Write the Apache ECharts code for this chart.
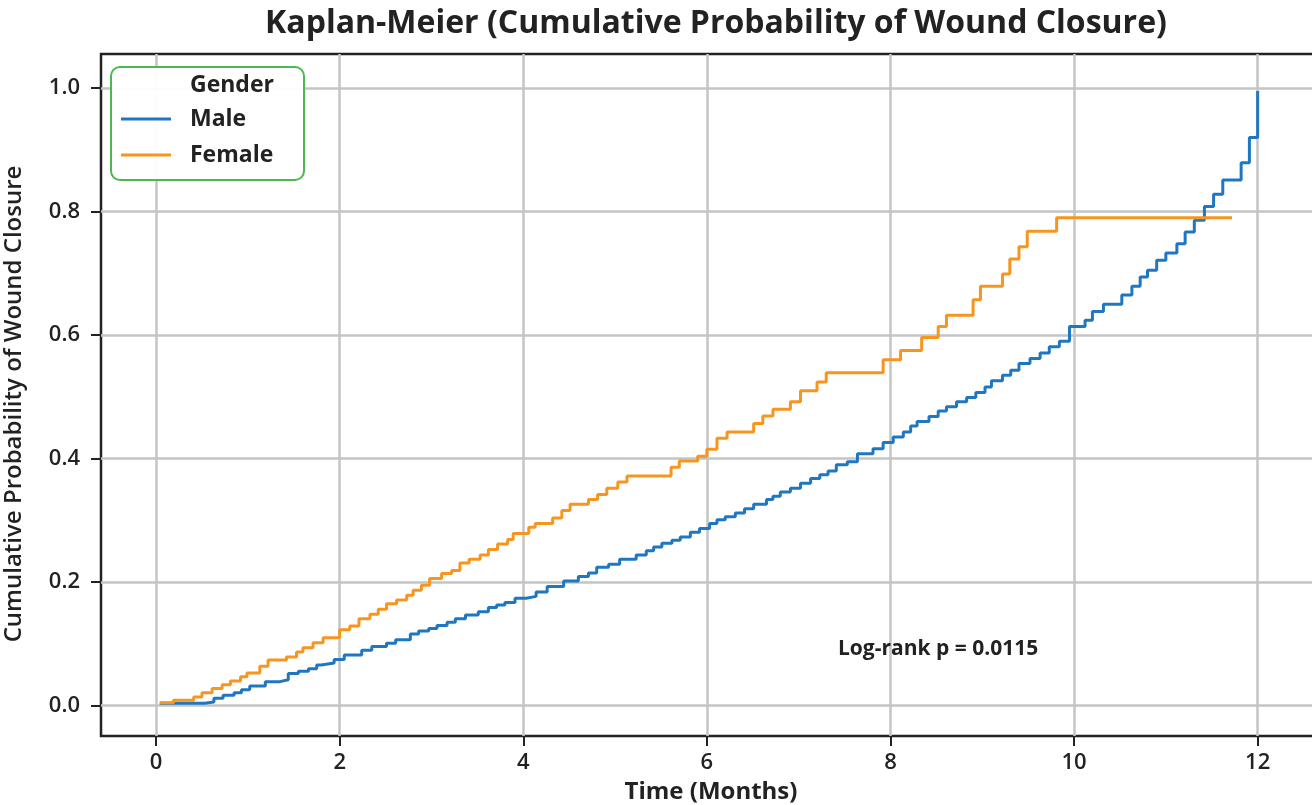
<!DOCTYPE html>
<html>
<head>
<meta charset="utf-8">
<script src="https://cdn.jsdelivr.net/npm/echarts@6/dist/echarts.min.js"></script>
<style>
  html, body { margin: 0; padding: 0; background: #fff; }
  #chart { width: 1312px; height: 805px; }
</style>
</head>
<body>
<div id="chart"></div>
<script>
// step times (months) and cumulative probability of closure
const maleTime = [0.04, 0.53, 0.63, 0.73, 0.85, 0.93, 1.02, 1.19, 1.35, 1.44, 1.55, 1.66, 1.75, 1.80, 1.94,
  2.05, 2.24, 2.35, 2.51, 2.61, 2.77, 2.86, 2.97, 3.06, 3.17, 3.26, 3.37, 3.51, 3.62, 3.71, 3.80, 3.91,
  4.03, 4.14, 4.26, 4.44, 4.60, 4.71, 4.80, 4.93, 5.05, 5.23, 5.34, 5.42, 5.51, 5.62, 5.71, 5.82, 5.92,
  6.03, 6.11, 6.20, 6.31, 6.41, 6.51, 6.65, 6.72, 6.80, 6.91, 7.02, 7.13, 7.23, 7.32, 7.41, 7.53, 7.64,
  7.81, 7.92, 8.03, 8.14, 8.22, 8.29, 8.42, 8.52, 8.61, 8.72, 8.83, 8.93, 9.03, 9.10, 9.22, 9.31, 9.40,
  9.52, 9.63, 9.73, 9.84, 9.95, 10.12, 10.20, 10.32, 10.52, 10.63, 10.72, 10.80, 10.90, 11.00, 11.12,
  11.21, 11.31, 11.42, 11.52, 11.62, 11.82, 11.91, 12.00]
const maleProb = [0.004, 0.006, 0.012, 0.017, 0.021, 0.026, 0.032, 0.039, 0.042, 0.052, 0.056, 0.060, 0.066, 0.069, 0.075,
  0.082, 0.090, 0.096, 0.101, 0.107, 0.116, 0.121, 0.125, 0.130, 0.135, 0.141, 0.147, 0.152, 0.159, 0.163, 0.167, 0.174,
  0.177, 0.184, 0.193, 0.202, 0.209, 0.215, 0.224, 0.229, 0.237, 0.244, 0.251, 0.257, 0.263, 0.268, 0.273, 0.281, 0.287,
  0.295, 0.301, 0.306, 0.312, 0.319, 0.326, 0.334, 0.339, 0.346, 0.352, 0.360, 0.368, 0.374, 0.380, 0.390, 0.395, 0.408,
  0.416, 0.426, 0.435, 0.443, 0.453, 0.460, 0.468, 0.477, 0.484, 0.492, 0.499, 0.507, 0.516, 0.526, 0.535, 0.543, 0.554,
  0.562, 0.571, 0.581, 0.590, 0.614, 0.624, 0.638, 0.650, 0.665, 0.679, 0.694, 0.705, 0.721, 0.733, 0.748,
  0.767, 0.786, 0.808, 0.828, 0.851, 0.879, 0.920, 0.995]

const femaleTime = [0.04, 0.19, 0.41, 0.50, 0.61, 0.72, 0.81, 0.92, 0.99, 1.13, 1.22, 1.42, 1.53, 1.60, 1.71, 1.82,
  2.00, 2.11, 2.21, 2.33, 2.42, 2.51, 2.62, 2.73, 2.80, 2.89, 2.98, 3.11, 3.22, 3.31, 3.41, 3.53, 3.62, 3.72,
  3.83, 3.89, 4.06, 4.13, 4.32, 4.42, 4.51, 4.71, 4.81, 4.91, 5.03, 5.13, 5.61, 5.70, 5.90, 6.00, 6.11, 6.22,
  6.51, 6.61, 6.72, 6.91, 7.02, 7.20, 7.30, 7.92, 8.11, 8.34, 8.52, 8.61, 8.90, 8.98, 9.22, 9.30, 9.40, 9.49,
  9.81, 11.72]
const femaleProb = [0.005, 0.009, 0.014, 0.021, 0.028, 0.034, 0.040, 0.047, 0.053, 0.064, 0.074, 0.079, 0.087, 0.094, 0.102, 0.110,
  0.123, 0.129, 0.141, 0.148, 0.156, 0.165, 0.171, 0.179, 0.187, 0.195, 0.206, 0.214, 0.219, 0.231, 0.237, 0.244, 0.253, 0.262,
  0.269, 0.279, 0.289, 0.295, 0.304, 0.316, 0.326, 0.334, 0.342, 0.352, 0.362, 0.372, 0.386, 0.396, 0.404, 0.415, 0.433, 0.443,
  0.457, 0.469, 0.480, 0.492, 0.510, 0.524, 0.539, 0.560, 0.575, 0.596, 0.614, 0.632, 0.657, 0.679, 0.699, 0.723, 0.743, 0.768,
  0.790, 0.790]

const xTicks = [0, 2, 4, 6, 8, 10, 12]
const yTicks = [0, 0.2, 0.4, 0.6, 0.8, 1.0]

const FONT = '"Open Sans", Lato, sans-serif'
const INK = '#222222'

const chart = echarts.init(document.getElementById('chart'), null, { renderer: 'canvas' })

const pairs = (xs, ys) => xs.map((x, i) => [x, ys[i]])

const option = {
  backgroundColor: '#ffffff',
  animation: false,
  title: {
    text: 'Kaplan-Meier (Cumulative Probability of Wound Closure)',
    left: 711,
    top: 3,
    textAlign: 'center',
    textStyle: { fontFamily: FONT, fontSize: 32, fontWeight: 'bold', color: INK },
  },
  grid: {
    left: 101,
    top: 54,
    width: 1220,
    height: 682,
    outerBoundsMode: 'none',
    show: true,
    borderColor: INK,
    borderWidth: 2.5,
    backgroundColor: 'transparent',
  },
  xAxis: {
    type: 'value',
    min: -0.6,
    max: 12.69,
    name: 'Time (Months)',
    nameLocation: 'middle',
    nameGap: 44,
    nameTextStyle: { fontFamily: FONT, fontSize: 24, fontWeight: 'bold', color: INK },
    axisLine: { show: false, onZero: false },
    axisTick: { show: true, length: 10, customValues: xTicks, lineStyle: { color: INK, width: 2 } },
    axisLabel: { customValues: xTicks, margin: 16, fontFamily: FONT, fontSize: 22, fontWeight: 600, color: INK },
    splitLine: { show: true, lineStyle: { color: '#c4c4c4', width: 2.5 } },
  },
  yAxis: {
    type: 'value',
    min: -0.049,
    max: 1.055,
    name: 'Cumulative Probability of Wound Closure',
    nameLocation: 'middle',
    nameGap: 75,
    nameTextStyle: {
      fontFamily: FONT, fontSize: 24, fontWeight: 600, color: INK,
      padding: [0, 18, 0, 0],
    },
    axisLine: { show: false, onZero: false },
    axisTick: { show: true, length: 10, customValues: yTicks, lineStyle: { color: INK, width: 2 } },
    axisLabel: {
      customValues: yTicks, margin: 21, fontFamily: FONT, fontSize: 22, fontWeight: 600, color: INK,
      formatter: (v) => v.toFixed(1),
    },
    splitLine: { show: true, lineStyle: { color: '#c4c4c4', width: 2.5 } },
  },
  legend: {
    data: ['Male', 'Female'],
    orient: 'vertical',
    left: 110,
    top: 66,
    padding: [39, 10, 10, 11],
    itemGap: 8,
    itemWidth: 50,
    itemHeight: 3,
    icon: 'rect',
    z: 20,
    textStyle: {
      fontFamily: FONT, fontSize: 23, fontWeight: 'bold', color: INK,
      lineHeight: 28, padding: [0, 0, 0, 14],
    },
  },
  graphic: [
    {
      type: 'rect',
      left: 110,
      top: 66,
      z: 15,
      shape: { width: 193, height: 113, r: 9 },
      style: { fill: 'rgba(255,255,255,0.95)', stroke: '#4cb84f', lineWidth: 2 },
    },
    {
      type: 'text',
      left: 190,
      top: 74,
      z: 21,
      style: { text: 'Gender', fontFamily: FONT, fontSize: 23, fontWeight: 'bold', fill: INK },
    },
    {
      type: 'text',
      left: 838,
      top: 639,
      z: 21,
      style: { text: 'Log-rank p = 0.0115', fontFamily: FONT, fontSize: 21, fontWeight: 'bold', fill: INK },
    },
  ],
  series: [
    {
      name: 'Male',
      type: 'line',
      step: 'end',
      showSymbol: false,
      color: '#1f77c2',
      lineStyle: { width: 3, color: '#1f77c2' },
      data: pairs(maleTime, maleProb),
      z: 3,
    },
    {
      name: 'Female',
      type: 'line',
      step: 'end',
      showSymbol: false,
      color: '#f7951f',
      lineStyle: { width: 3, color: '#f7951f' },
      data: pairs(femaleTime, femaleProb),
      z: 4,
    },
  ],
}

chart.setOption(option)
window.addEventListener('resize', () => chart.resize())
</script>
</body>
</html>
